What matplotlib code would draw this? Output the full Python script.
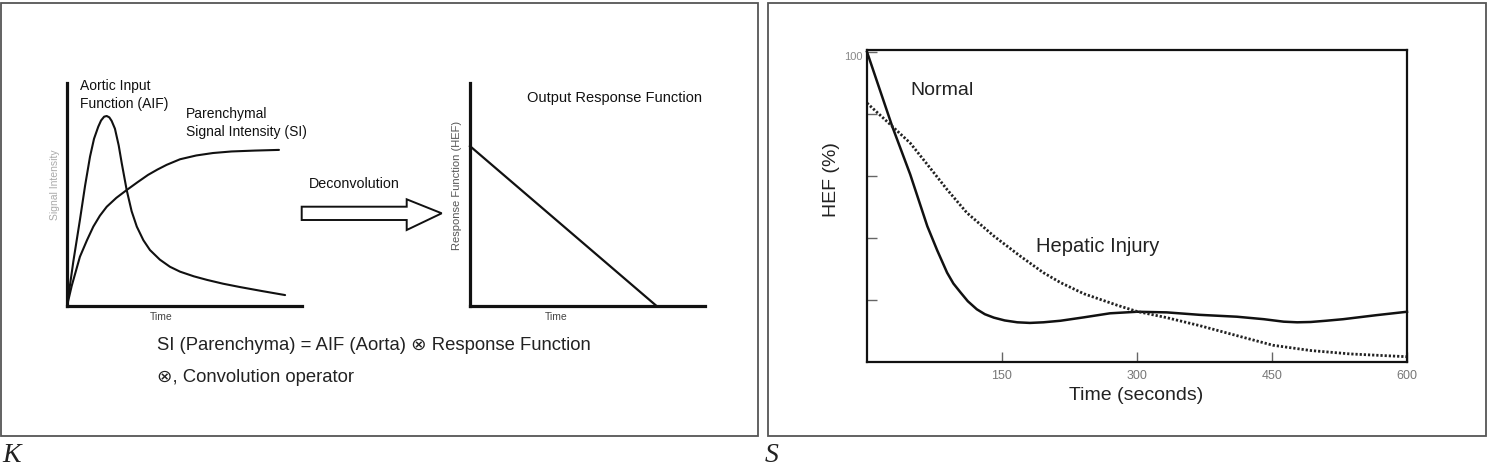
import matplotlib
matplotlib.use("Agg")
import matplotlib.pyplot as plt
from matplotlib.patches import Rectangle, Polygon

# ---------------- data ----------------
# left schematic (arbitrary units, axes 0..10)
aif_x = [0, 0.27, 0.55, 0.77, 0.98, 1.15, 1.33, 1.45, 1.58, 1.69, 1.80, 1.90, 2.04, 2.20, 2.33, 2.54,
         2.75, 2.97, 3.25, 3.53, 3.95, 4.38, 4.81, 5.40, 5.96, 6.64, 7.36, 8.30, 9.28]
aif_y = [0, 2.0, 3.86, 5.40, 6.70, 7.50, 8.04, 8.32, 8.49, 8.52, 8.46, 8.30, 7.95, 7.20, 6.40, 5.20,
         4.25, 3.56, 2.95, 2.51, 2.08, 1.76, 1.54, 1.33, 1.17, 1.00, 0.85, 0.67, 0.49]
si_x = [0, 0.2, 0.55, 0.85, 1.12, 1.40, 1.69, 2.10, 2.54, 3.00, 3.45, 3.85, 4.24, 4.81, 5.50, 6.21, 7.0, 8.0, 9.02]
si_y = [0, 0.9, 2.21, 2.95, 3.56, 4.05, 4.45, 4.85, 5.20, 5.55, 5.88, 6.12, 6.33, 6.58, 6.75, 6.86, 6.93, 6.97, 7.0]
resp_x = [0, 7.94]
resp_y = [7.17, 0]

# right chart: HEF (%) vs time (s)
normal_t = [0, 28, 48, 67, 78, 89, 96, 104, 112, 122, 131, 141, 153, 167, 181, 196, 215, 241, 270, 300,
            333, 370, 411, 441, 463, 478, 493, 510, 529, 566, 600]
normal_v = [100, 76, 60.5, 43.8, 36.0, 28.8, 25.3, 22.4, 19.6, 17.0, 15.4, 14.3, 13.4, 12.8, 12.6, 12.8,
            13.3, 14.4, 15.7, 16.2, 16.0, 15.2, 14.6, 13.8, 13.0, 12.8, 12.9, 13.3, 13.8, 15.1, 16.2]
injury_t = [0, 28, 48, 67, 89, 111, 141, 170, 196, 215, 241, 278, 300, 333, 370, 411, 451, 493, 537, 600]
injury_v = [83.5, 76, 70.6, 63.7, 55.6, 48.1, 40.6, 34.2, 28.8, 25.6, 22.0, 18.3, 16.3, 14.3, 11.7, 8.5,
            5.4, 3.7, 2.6, 1.7]
x_ticks = [150, 300, 450, 600]
y_ticks = [20, 40, 60, 80, 100]
y_ticklabels = ["", "", "", "", "100"]

# ---------------- layout helpers ----------------
W, H = 1488, 474
FONT = ["Liberation Sans", "DejaVu Sans"]
plt.rcParams["font.family"] = FONT

fig = plt.figure(figsize=(W / 100, H / 100), dpi=100)


def fbox(x0, y0, x1, y1):
    return [x0 / W, 1 - y1 / H, (x1 - x0) / W, (y1 - y0) / H]


def fp(x, y):
    return (x / W, 1 - y / H)


def ftext(x, y, s, **kw):
    kw.setdefault("va", "center")
    kw.setdefault("ha", "left")
    fig.text(x / W, 1 - y / H, s, **kw)


# panel frames
for x0, x1 in [(1, 758), (768, 1486)]:
    fig.add_artist(Rectangle(fp(x0, 436), (x1 - x0) / W, 433 / H, transform=fig.transFigure,
                             fill=False, ec="#555555", lw=1.3))

# ---------------- left schematic ----------------
ax1 = fig.add_axes(fbox(67, 83, 302, 306))
ax2 = fig.add_axes(fbox(470, 83, 705, 306))
for ax in (ax1, ax2):
    ax.set_xlim(0, 10)
    ax.set_ylim(0, 10)
    ax.set_xticks([])
    ax.set_yticks([])
    ax.spines["top"].set_visible(False)
    ax.spines["right"].set_visible(False)
    for s in ("left", "bottom"):
        ax.spines[s].set_linewidth(2.3)
        ax.spines[s].set_color("#111111")
    ax.patch.set_alpha(0)

ax1.plot(aif_x, aif_y, color="#111111", lw=1.5, clip_on=False,
         solid_capstyle="round", solid_joinstyle="round")
ax1.plot(si_x, si_y, color="#111111", lw=1.5, clip_on=False,
         solid_capstyle="round", solid_joinstyle="round")
ax2.plot(resp_x, resp_y, color="#111111", lw=1.6, clip_on=False)

ftext(80, 86, "Aortic Input", fontsize=10, color="#111111")
ftext(80, 104, "Function (AIF)", fontsize=10, color="#111111")
ftext(186, 114, "Parenchymal", fontsize=10, color="#111111")
ftext(186, 132, "Signal Intensity (SI)", fontsize=10, color="#111111")
ftext(55, 185, "Signal Intensity", fontsize=7.5, color="#aaaaaa", rotation=90, ha="center")
ftext(161, 317, "Time", fontsize=7.5, color="#444444", ha="center")
ftext(556, 317, "Time", fontsize=7.5, color="#444444", ha="center")
ftext(457, 185, "Response Function (HEF)", fontsize=8, color="#555555", rotation=90, ha="center")
ftext(527, 98, "Output Response Function", fontsize=10.5, color="#111111")
ftext(309, 184, "Deconvolution", fontsize=10.3, color="#111111")

# hollow arrow
arrow_px = [(301.7, 206.7), (406.7, 206.7), (406.7, 199.3), (441.7, 213.3),
            (406.7, 230), (406.7, 220), (301.7, 220)]
fig.add_artist(Polygon([fp(x, y) for x, y in arrow_px], closed=True, transform=fig.transFigure,
                       fc="white", ec="#111111", lw=1.4, joinstyle="miter"))

ftext(157, 345, "SI (Parenchyma) = AIF (Aorta) \u2297 Response Function", fontsize=13.3, color="#222222")
ftext(157, 378, "\u2297, Convolution operator", fontsize=13.3, color="#222222")

# ---------------- right chart ----------------
ax3 = fig.add_axes(fbox(867, 50, 1407, 362))
ax3.plot(normal_t, normal_v, color="#111111", lw=1.8, clip_on=False, solid_joinstyle="round")
ax3.plot(injury_t, injury_v, color="#222222", lw=2.0, linestyle=(0, (0.8, 0.7)), clip_on=False)
ax3.set_xlim(0, 600)
ax3.set_ylim(0, 100.6)
ax3.set_xticks(x_ticks)
ax3.set_xticklabels([str(v) for v in x_ticks])
ax3.set_yticks(y_ticks)
ax3.set_yticklabels(y_ticklabels)
ax3.tick_params(axis="both", direction="in", length=7, width=1, color="#666666")
ax3.tick_params(axis="x", labelsize=9, labelcolor="#777777", pad=6)
ax3.tick_params(axis="y", labelsize=8, labelcolor="#888888", pad=3)
for lbl in ax3.get_yticklabels():
    lbl.set_va("top")
for s in ax3.spines.values():
    s.set_linewidth(1.6)
    s.set_color("#111111")
ax3.text(47.8, 87.7, "Normal", fontsize=14, color="#222222", va="center", ha="left")
ax3.text(187.8, 37.1, "Hepatic Injury", fontsize=14.5, color="#222222", va="center", ha="left")

ftext(832, 180, "HEF (%)", fontsize=14, color="#222222", rotation=90, ha="center")
ftext(1136, 395, "Time (seconds)", fontsize=14, color="#222222", ha="center")

# panel letters
ftext(2, 456, "K", fontsize=20, color="#222222", family=["Liberation Serif", "DejaVu Serif"], style="italic")
ftext(765, 456, "S", fontsize=20, color="#222222", family=["Liberation Serif", "DejaVu Serif"], style="italic")

fig.savefig("out.png", dpi=100)
